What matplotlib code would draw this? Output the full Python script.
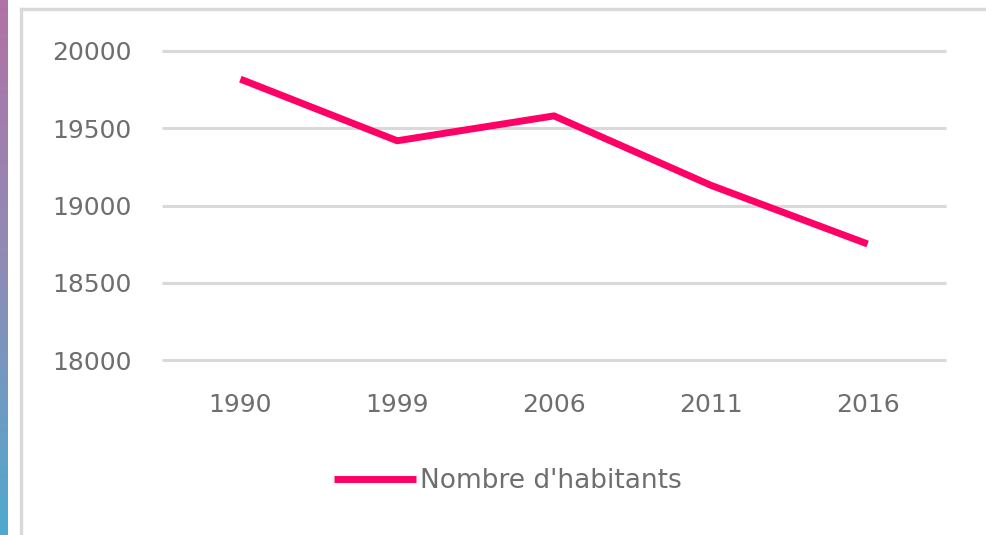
import numpy as np
import matplotlib
matplotlib.use("Agg")
import matplotlib.pyplot as plt
from matplotlib.lines import Line2D
from matplotlib.colors import LinearSegmentedColormap

# data
years = ["1990", "1999", "2006", "2011", "2016"]
habitants = [19818, 19419, 19580, 19131, 18751]
y_ticks = [18000, 18500, 19000, 19500, 20000]
y_labels = ["18000", "18500", "19000", "19500", "20000"]

W, H = 986, 535
fig = plt.figure(figsize=(W / 100, H / 100), dpi=100)
fig.patch.set_facecolor("white")

# left coloured strip (pink -> blue)
strip = fig.add_axes([0, 0, 8 / W, 1])
cmap = LinearSegmentedColormap.from_list("strip", ["#B272A6", "#8E8CB6", "#4FA9CE"])
strip.imshow(np.linspace(0, 1, 256).reshape(-1, 1), aspect="auto", cmap=cmap)
strip.axis("off")

# light grey chart frame (top and left edges visible)
frame_col = "#D9D9D9"
fig.add_artist(Line2D([20.5 / W, 20.5 / W], [0, 1 - 8.5 / H], color=frame_col, lw=2.4,
                      transform=fig.transFigure))
fig.add_artist(Line2D([20.5 / W, 1], [1 - 8.5 / H, 1 - 8.5 / H], color=frame_col, lw=2.4,
                      transform=fig.transFigure))

ax = fig.add_axes([162 / W, 1 - 360 / H, (946 - 162) / W, (360 - 51) / H])
x = np.arange(len(years))
line, = ax.plot(x, habitants, color="#FF0066", lw=5, solid_capstyle="butt",
                label="Nombre d'habitants")

ax.set_xlim(-0.5, len(years) - 0.5)
ax.set_ylim(18000, 20000)
ax.set_yticks(y_ticks)
ax.set_yticklabels(y_labels)
ax.set_xticks(x)
ax.set_xticklabels(years)
ax.grid(axis="y", color=frame_col, lw=2.2)
for g in ax.get_ygridlines():
    g.set_clip_on(False)
    g.set_solid_capstyle("butt")
ax.set_axisbelow(True)
for s in ax.spines.values():
    s.set_visible(False)
ax.tick_params(axis="both", length=0, labelsize=18, colors="#6E6E6E")
ax.tick_params(axis="y", pad=22)
ax.tick_params(axis="x", pad=24)

fig.legend(handles=[line], loc="center", bbox_to_anchor=(508 / W, 1 - 481 / H),
           frameon=False, fontsize=19, handlelength=3.1, handletextpad=0.15,
           labelcolor="#6E6E6E")

fig.savefig("out.png", dpi=100)
